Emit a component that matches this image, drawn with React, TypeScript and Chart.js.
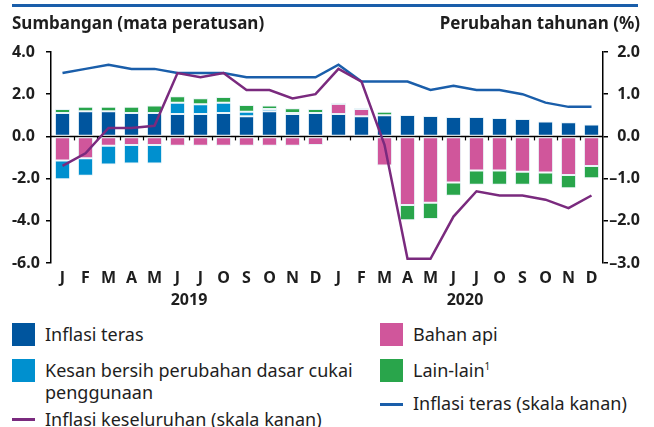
import React, { useEffect, useRef } from "react";
import { Chart, registerables } from "chart.js";

Chart.register(...registerables);

const months = ["J", "F", "M", "A", "M", "J", "J", "O", "S", "O", "N", "D"];
const categories = [...months, ...months];
const years = ["2019", "2020"];

const coreContrib = [
  1.11, 1.19, 1.19, 1.11, 1.11, 1.06, 1.06, 1.11, 0.95, 1.19, 1.06, 1.11,
  1.06, 0.95, 1.0, 1.02, 0.97, 0.92, 0.92, 0.87, 0.83, 0.71, 0.67, 0.56,
];
const fuelContrib = [
  -1.14, -1.03, -0.44, -0.41, -0.41, -0.44, -0.44, -0.44, -0.44, -0.44, -0.44, -0.41,
  0.48, 0.35, -1.38, -3.25, -3.14, -2.19, -1.62, -1.62, -1.67, -1.71, -1.83, -1.4,
];
const taxContrib = [
  -0.89, -0.83, -0.89, -0.88, -0.88, 0.53, 0.46, 0.48, 0.22, 0.11, 0.05, 0,
  0, 0, 0, 0, 0, 0, 0, 0, 0, 0, 0, 0,
];
const otherContrib = [
  0.19, 0.21, 0.21, 0.29, 0.35, 0.31, 0.29, 0.28, 0.32, 0.16, 0.22, 0.19,
  0.05, 0.05, 0.17, -0.72, -0.78, -0.62, -0.67, -0.67, -0.62, -0.58, -0.63, -0.58,
];
const headlineInflation = [
  -0.7, -0.4, 0.2, 0.2, 0.25, 1.5, 1.4, 1.5, 1.1, 1.1, 0.9, 1.0,
  1.6, 1.3, -0.2, -2.9, -2.9, -1.9, -1.3, -1.4, -1.4, -1.5, -1.7, -1.4,
];
const coreInflation = [
  1.5, 1.6, 1.7, 1.6, 1.6, 1.5, 1.5, 1.5, 1.4, 1.4, 1.4, 1.4,
  1.7, 1.3, 1.3, 1.3, 1.1, 1.2, 1.1, 1.1, 1.0, 0.8, 0.7, 0.7,
];

const COLORS = {
  core: "#00559e",
  tax: "#0090cf",
  fuel: "#d0569b",
  other: "#29a54b",
  headLine: "#7a2a7e",
  coreLine: "#1a5eaa",
  text: "#1e1e1e",
};

const FONT = "'Noto Sans', 'DejaVu Sans', sans-serif";

const annotationsPlugin = {
  id: "customAnnotations",
  beforeDatasetsDraw(chart: any) {
    const { ctx, chartArea, scales } = chart;
    const y0 = scales.y.getPixelForValue(0);
    ctx.save();
    ctx.strokeStyle = "#000";
    ctx.lineWidth = 1.5;
    ctx.beginPath();
    ctx.moveTo(chartArea.left, y0);
    ctx.lineTo(chartArea.right, y0);
    ctx.stroke();
    const x = scales.x;
    const step = x.getPixelForValue(1) - x.getPixelForValue(0);
    ctx.lineWidth = 1.2;
    for (let i = 1; i < categories.length; i++) {
      const px = Math.round(x.getPixelForValue(i) - step / 2) + 0.5;
      ctx.beginPath();
      ctx.moveTo(px, y0);
      ctx.lineTo(px, y0 + 4);
      ctx.stroke();
    }
    ctx.restore();
  },
  afterDraw(chart: any) {
    const { ctx, scales } = chart;
    const x = scales.x;
    ctx.save();
    ctx.fillStyle = COLORS.text;
    ctx.font = `bold 16px ${FONT}`;
    ctx.textAlign = "center";
    ctx.textBaseline = "middle";
    years.forEach((yr, k) => {
      const a = x.getPixelForValue(k * 12);
      const b = x.getPixelForValue(k * 12 + 11);
      ctx.fillText(yr, (a + b) / 2, 300);
    });
    ctx.restore();
  },
};

function ChartCanvas() {
  const ref = useRef<HTMLCanvasElement | null>(null);
  useEffect(() => {
    if (!ref.current) return;
    const barCommon = {
      type: "bar" as const,
      yAxisID: "y",
      stack: "s",
      order: 2,
      borderWidth: 1,
      borderColor: "rgba(225,240,245,0.75)",
      barPercentage: 0.66,
      categoryPercentage: 1,
      borderSkipped: false,
    };
    const chart = new Chart(ref.current, {
      type: "bar",
      data: {
        labels: categories,
        datasets: [
          {
            type: "line",
            label: "Inflasi keseluruhan (skala kanan)",
            data: headlineInflation,
            yAxisID: "y1",
            borderColor: COLORS.headLine,
            borderWidth: 2.5,
            pointRadius: 0,
            tension: 0,
            order: 0,
          } as any,
          {
            type: "line",
            label: "Inflasi teras (skala kanan)",
            data: coreInflation,
            yAxisID: "y1",
            borderColor: COLORS.coreLine,
            borderWidth: 2.5,
            pointRadius: 0,
            tension: 0,
            order: 1,
          } as any,
          { ...barCommon, label: "Inflasi teras", data: coreContrib, backgroundColor: COLORS.core },
          { ...barCommon, label: "Bahan api", data: fuelContrib, backgroundColor: COLORS.fuel },
          {
            ...barCommon,
            label: "Kesan bersih perubahan dasar cukai penggunaan",
            data: taxContrib,
            backgroundColor: COLORS.tax,
          },
          { ...barCommon, label: "Lain-lain", data: otherContrib, backgroundColor: COLORS.other },
        ],
      },
      options: {
        animation: false,
        responsive: false,
        devicePixelRatio: 1,
        layout: { padding: { left: 12, right: 14, top: 52, bottom: 0 } },
        plugins: { legend: { display: false }, tooltip: { enabled: false } },
        scales: {
          x: {
            stacked: true,
            grid: { display: false },
            border: { display: false },
            ticks: {
              autoSkip: false,
              maxRotation: 0,
              padding: -2,
              color: COLORS.text,
              font: { family: FONT, size: 16, weight: "bold" },
            },
            afterFit(scale: any) {
              scale.height = 47;
            },
          },
          y: {
            position: "left",
            stacked: true,
            min: -6,
            max: 4,
            grid: { drawOnChartArea: false, drawTicks: true, tickLength: 5, color: "#000", lineWidth: 1.5 },
            border: { display: true, color: "#000", width: 1.5 },
            ticks: {
              stepSize: 2,
              crossAlign: "far",
              padding: 2,
              color: COLORS.text,
              font: { family: FONT, size: 16, weight: "bold" },
              callback: (v: any) => Number(v).toFixed(1),
            },
            afterFit(scale: any) {
              scale.width = 39;
            },
          },
          y1: {
            position: "right",
            min: -3,
            max: 2,
            grid: { drawOnChartArea: false, drawTicks: true, tickLength: 5, color: "#000", lineWidth: 1.5 },
            border: { display: true, color: "#000", width: 1.5 },
            ticks: {
              stepSize: 1,
              crossAlign: "far",
              padding: 2,
              color: COLORS.text,
              font: { family: FONT, size: 16, weight: "bold" },
              callback: (v: any) => {
                const n = Number(v);
                return (n < 0 ? "\u2013" : "") + Math.abs(n).toFixed(1);
              },
            },
            afterFit(scale: any) {
              scale.width = 37;
            },
          },
        },
      } as any,
      plugins: [annotationsPlugin],
    });
    return () => chart.destroy();
  }, []);
  return (
    <canvas
      ref={ref}
      width={654}
      height={310}
      style={{ position: "absolute", left: 0, top: 0, width: 654, height: 310 }}
    />
  );
}

const abs = (s: React.CSSProperties): React.CSSProperties => ({ position: "absolute", ...s });

function Swatch({ left, top, color }: { left: number; top: number; color: string }) {
  return <div style={abs({ left, top, width: 23, height: 23, background: color })} />;
}

function LineSwatch({ left, top, color }: { left: number; top: number; color: string }) {
  return <div style={abs({ left, top, width: 23, height: 3, background: color })} />;
}

function LegendText({ left, top, children }: { left: number; top: number; children: React.ReactNode }) {
  return (
    <div
      style={abs({
        left,
        top,
        fontFamily: FONT,
        fontSize: 18,
        lineHeight: "22px",
        color: COLORS.text,
        whiteSpace: "nowrap",
      })}
    >
      {children}
    </div>
  );
}

export default function App() {
  return (
    <div
      style={{
        position: "absolute",
        left: 0,
        top: 0,
        width: 654,
        height: 427,
        background: "#fff",
        overflow: "hidden",
      }}
    >
      <ChartCanvas />
      <div style={abs({ left: 12, top: 4, width: 626, height: 3, background: COLORS.coreLine })} />
      <div
        style={abs({
          left: 12,
          top: 13,
          fontFamily: FONT,
          fontWeight: "bold",
          fontSize: 17,
          lineHeight: "20px",
          color: COLORS.text,
          whiteSpace: "nowrap",
        })}
      >
        Sumbangan (mata peratusan)
      </div>
      <div
        style={abs({
          right: 14,
          top: 13,
          fontFamily: FONT,
          fontWeight: "bold",
          fontSize: 17,
          lineHeight: "20px",
          color: COLORS.text,
          whiteSpace: "nowrap",
        })}
      >
        Perubahan tahunan (%)
      </div>

      <Swatch left={12} top={323} color={COLORS.core} />
      <LegendText left={45} top={323}>Inflasi teras</LegendText>
      <Swatch left={12} top={359} color={COLORS.tax} />
      <LegendText left={45} top={359}>
        Kesan bersih perubahan dasar cukai
        <br />
        penggunaan
      </LegendText>
      <LineSwatch left={12} top={418} color={COLORS.headLine} />
      <LegendText left={45} top={408}>Inflasi keseluruhan (skala kanan)</LegendText>

      <Swatch left={380} top={323} color={COLORS.fuel} />
      <LegendText left={413} top={323}>Bahan api</LegendText>
      <Swatch left={380} top={359} color={COLORS.other} />
      <LegendText left={413} top={359}>
        Lain-lain<sup style={{ fontSize: 10, verticalAlign: "7px", lineHeight: 0 }}>1</sup>
      </LegendText>
      <LineSwatch left={380} top={403} color={COLORS.coreLine} />
      <LegendText left={413} top={392}>Inflasi teras (skala kanan)</LegendText>
    </div>
  );
}
